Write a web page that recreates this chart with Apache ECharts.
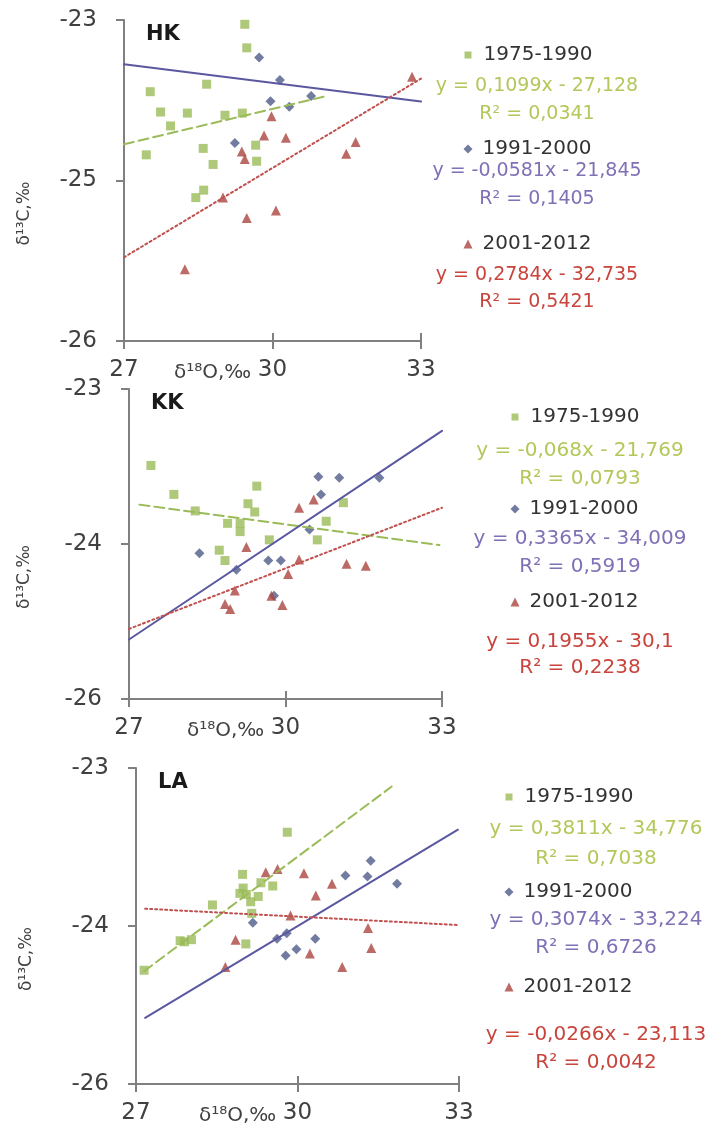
<!DOCTYPE html>
<html>
<head>
<meta charset="utf-8">
<script src="https://cdn.jsdelivr.net/npm/echarts@6/dist/echarts.min.js"></script>
<style>
  html, body { margin: 0; padding: 0; background: #fff; }
  #chart { width: 717px; height: 1134px; }
</style>
</head>
<body>
<div id="chart"></div>
<script>
// δ13C vs δ18O for three sites, split by period
const periods = ['1975-1990', '1991-2000', '2001-2012']
const xTicks = [27, 30, 33]

// HK
const hk1975 = [[29.44, -23.04], [29.48, -23.26], [27.53, -23.67], [28.67, -23.6], [27.74, -23.86], [28.28, -23.87],
  [27.94, -23.99], [29.04, -23.89], [29.39, -23.87], [27.45, -24.26], [28.6, -24.2], [28.8, -24.35],
  [29.66, -24.17], [29.68, -24.32], [28.45, -24.66], [28.61, -24.59]]
const hk1991 = [[29.73, -23.35], [30.15, -23.56], [29.96, -23.76], [30.34, -23.81], [30.78, -23.71], [29.24, -24.15]]
const hk2001 = [[32.82, -23.53], [29.98, -23.9], [29.83, -24.08], [30.27, -24.1], [29.38, -24.23], [29.44, -24.3],
  [31.68, -24.14], [31.49, -24.25], [29.0, -24.66], [30.07, -24.78], [29.48, -24.85], [28.23, -25.33]]
const hkTrends = [[[27, -24.161], [31.1, -23.71]], [[27, -23.414], [33, -23.762]], [[27, -25.218], [33, -23.548]]]
const hkEq = ['y = 0,1099x - 27,128', 'y = -0,0581x - 21,845', 'y = 0,2784x - 32,735']
const hkR2 = ['R² = 0,0341', 'R² = 0,1405', 'R² = 0,5421']
const hkYTicks = [-26, -24.5, -23]

// KK
const kk1975 = [[27.42, -23.24], [27.86, -23.52], [29.45, -23.44], [28.27, -23.68], [29.28, -23.61], [29.41, -23.69],
  [28.89, -23.8], [29.13, -23.8], [29.13, -23.88], [29.69, -23.96], [28.73, -24.06], [28.84, -24.16],
  [31.11, -23.6], [30.78, -23.78], [30.61, -23.96]]
const kk1991 = [[28.35, -24.09], [29.06, -24.25], [29.67, -24.16], [29.91, -24.16], [29.78, -24.5], [30.46, -23.86],
  [30.63, -23.35], [30.68, -23.52], [31.03, -23.36], [31.8, -23.36]]
const kk2001 = [[30.26, -23.65], [30.54, -23.57], [29.25, -24.03], [30.26, -24.15], [31.17, -24.19], [31.54, -24.21],
  [30.05, -24.29], [29.03, -24.45], [28.84, -24.58], [28.94, -24.63], [29.73, -24.5], [29.94, -24.59]]
const kkTrends = [[[27.2, -23.619], [32.95, -24.01]], [[27, -24.924], [33, -22.905]], [[27, -24.822], [33, -23.649]]]
const kkEq = ['y = -0,068x - 21,769', 'y = 0,3365x - 34,009', 'y = 0,1955x - 30,1']
const kkR2 = ['R² = 0,0793', 'R² = 0,5919', 'R² = 0,2238']
const kkYTicks = [-25.5, -24, -22.5]

// LA
const la1975 = [[29.81, -23.11], [28.98, -23.51], [29.32, -23.59], [29.54, -23.62], [28.99, -23.64], [28.93, -23.69],
  [29.05, -23.7], [29.27, -23.72], [29.13, -23.77], [28.42, -23.8], [29.15, -23.88], [27.82, -24.14],
  [28.03, -24.13], [27.9, -24.15], [29.04, -24.17], [27.15, -24.42]]
const la1991 = [[31.36, -23.38], [30.89, -23.52], [31.3, -23.53], [31.85, -23.6], [29.17, -23.97], [29.62, -24.12],
  [29.8, -24.07], [30.33, -24.12], [29.78, -24.28], [29.98, -24.22]]
const la2001 = [[29.41, -23.49], [29.63, -23.46], [30.12, -23.5], [30.64, -23.6], [30.34, -23.71], [29.87, -23.9],
  [31.31, -24.02], [28.85, -24.13], [30.23, -24.26], [31.37, -24.21], [28.66, -24.39], [30.83, -24.39]]
const laTrends = [[[27.15, -24.429], [31.75, -22.676]], [[27.17, -24.872], [32.98, -23.086]], [[27.17, -23.836], [33, -23.991]]]
const laEq = ['y = 0,3811x - 34,776', 'y = 0,3074x - 33,224', 'y = -0,0266x - 23,113']
const laR2 = ['R² = 0,7038', 'R² = 0,6726', 'R² = 0,0042']
const laYTicks = [-25.5, -24, -22.5]

const font = 'DejaVu Sans'
const axisColor = '#808080'
const labelColor = '#404040'
const pointColors = ['#9bbb59', '#4f5a88', '#ab4540']
const symbols = ['rect', 'diamond', 'triangle']
const iconSizes = [7, 9, 9]
const trendColors = ['#9bbb59', '#5a58a0', '#c0504d']
const trendTypes = [[10, 5], 'solid', [2, 3]]
const eqColors = ['#b3c85a', '#8070b6', '#c8443d']

const panels = [
  { name: 'HK', series: [hk1975, hk1991, hk2001], trends: hkTrends, eq: hkEq, r2: hkR2, yTicks: hkYTicks,
    grid: { left: 124, top: 20, width: 297, height: 321 }, yGap: 91,
    legX: 468, legY: [56, 150, 245], eqX: 537, eqY: [86, 171, 275], r2Y: [114, 199, 302], eqSize: 19 },
  { name: 'KK', series: [kk1975, kk1991, kk2001], trends: kkTrends, eq: kkEq, r2: kkR2, yTicks: kkYTicks,
    grid: { left: 129, top: 389, width: 313, height: 310 }, yGap: 96,
    legX: 515, legY: [418, 510, 603], eqX: 580, eqY: [451, 539, 642], r2Y: [479, 567, 668], eqSize: 20 },
  { name: 'LA', series: [la1975, la1991, la2001], trends: laTrends, eq: laEq, r2: laR2, yTicks: laYTicks,
    grid: { left: 136, top: 768, width: 323, height: 316 }, yGap: 101,
    legX: 509, legY: [798, 893, 988], eqX: 596, eqY: [829, 920, 1035], r2Y: [859, 948, 1063], eqSize: 20 }
]

// Excel-style rounding of the tick values (-24.5 -> -25)
const roundLabel = (v) => String(Math.sign(v) * Math.round(Math.abs(v)))

const chart = echarts.init(document.getElementById('chart'))

const grids = []
const xAxes = []
const yAxes = []
const series = []
const legends = []
const titles = []
const texts = []

panels.forEach((p, i) => {
  grids.push(p.grid)
  xAxes.push({
    type: 'value', gridIndex: i, min: xTicks[0], max: xTicks[2], interval: 3, position: 'bottom',
    axisLine: { onZero: false, lineStyle: { color: axisColor, width: 2 } },
    axisTick: { length: 8, lineStyle: { color: axisColor, width: 2 } },
    axisLabel: { fontFamily: font, fontSize: 23, color: labelColor, margin: 18 },
    splitLine: { show: false },
    name: 'δ¹⁸O,‰', nameLocation: 'middle', nameGap: 22, nameMoveOverlap: false,
    nameTextStyle: { fontFamily: font, fontSize: 20, color: labelColor, padding: [0, 120, 0, 0] }
  })
  // second axis only for the inner half of the crossing ticks
  xAxes.push({
    type: 'value', gridIndex: i, min: xTicks[0], max: xTicks[2], interval: 3, position: 'bottom',
    axisLine: { show: false },
    axisTick: { inside: true, length: 8, lineStyle: { color: axisColor, width: 2 } },
    axisLabel: { show: false },
    splitLine: { show: false }
  })
  yAxes.push({
    type: 'value', gridIndex: i, min: p.yTicks[0], max: p.yTicks[2],
    axisLine: { show: true, lineStyle: { color: axisColor, width: 2 } },
    axisTick: { show: true, length: 8, customValues: p.yTicks, lineStyle: { color: axisColor, width: 2 } },
    axisLabel: { customValues: p.yTicks, formatter: roundLabel, fontFamily: font, fontSize: 23, color: labelColor, margin: 27 },
    splitLine: { show: false },
    name: 'δ¹³C,‰', nameLocation: 'middle', nameRotate: 90, nameGap: p.yGap, nameMoveOverlap: false,
    nameTextStyle: { fontFamily: font, fontSize: 17, color: labelColor, padding: [0, 66, 0, 0] }
  })

  periods.forEach((period, k) => {
    series.push({
      type: 'scatter', name: period, xAxisIndex: i * 2, yAxisIndex: i,
      data: p.series[k], symbol: symbols[k], symbolSize: k === 0 ? 9 : 10,
      itemStyle: { color: pointColors[k] }, z: 2
    })
    series.push({
      type: 'line', name: period + ' trend', xAxisIndex: i * 2, yAxisIndex: i,
      data: p.trends[k], symbol: 'none', silent: true,
      lineStyle: { color: trendColors[k], width: 2, type: trendTypes[k], cap: 'round' }, z: 3
    })
    legends.push({
      data: [period], left: p.legX - iconSizes[k] / 2, top: p.legY[k] - 11, padding: 0, selectedMode: false,
      itemWidth: iconSizes[k], itemHeight: iconSizes[k],
      textStyle: { fontFamily: font, fontSize: 20, color: '#333', padding: [0, 0, 0, 14 - iconSizes[k]] }
    })
    texts.push({
      type: 'text', x: p.eqX, y: p.eqY[k],
      style: { text: p.eq[k], fill: eqColors[k], font: p.eqSize + 'px "' + font + '"', align: 'center', verticalAlign: 'middle' }
    })
    texts.push({
      type: 'text', x: p.eqX, y: p.r2Y[k],
      style: { text: p.r2[k], fill: eqColors[k], font: p.eqSize + 'px "' + font + '"', align: 'center', verticalAlign: 'middle' }
    })
  })

  titles.push({
    text: p.name, left: p.grid.left + 22, top: p.grid.top + 4, padding: 0,
    textStyle: { fontFamily: font, fontSize: 21, fontWeight: 'bold', color: '#1a1a1a' }
  })
})

chart.setOption({
  backgroundColor: '#fff',
  animation: false,
  title: titles,
  legend: legends,
  grid: grids,
  xAxis: xAxes,
  yAxis: yAxes,
  series: series,
  graphic: texts
})

window.addEventListener('resize', () => chart.resize())
</script>
</body>
</html>
